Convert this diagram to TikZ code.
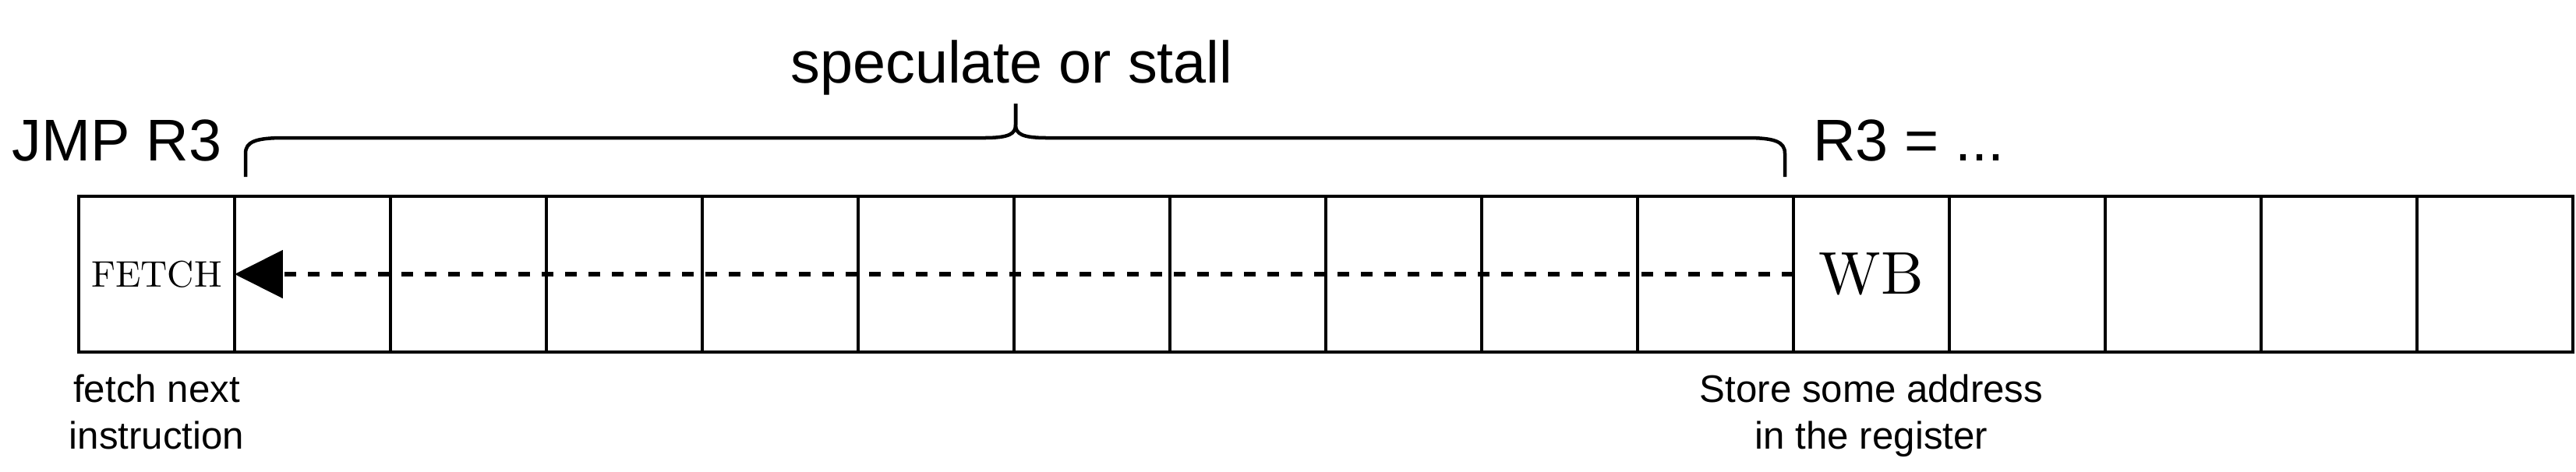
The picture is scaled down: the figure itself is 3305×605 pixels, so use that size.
\documentclass[tikz,border=0pt]{standalone}
\usepackage{fontspec}
\newfontfamily\sansf{Liberation Sans}
\newfontfamily\lmten{lmroman10-regular.otf}
\usetikzlibrary{arrows.meta}
\begin{document}
\begin{tikzpicture}[x=0.01cm,y=-0.01cm,
  cell/.style={draw=black, line width=0.045cm, minimum width=2cm, minimum height=2cm, inner sep=0pt, outer sep=0pt},
  bigtxt/.style={font=\sansf\fontsize{21.5}{25}\selectfont, inner sep=0pt},
  smalltxt/.style={font=\sansf\fontsize{14}{17.07}\selectfont, inner sep=0pt, align=center},
  bracestyle/.style={line width=0.045cm, line join=round},
  backarrow/.style={line width=0.055cm, dash pattern=on 0.15cm off 0.15cm, -{Triangle[length=0.62cm,width=0.61cm]}}
]
\useasboundingbox (0,0) rectangle (3305,605);
% pipeline cells
\node[cell, font=\lmten\fontsize{13.5}{15}\selectfont] (c1) at (201,352) {FETCH};
\foreach \i in {2,...,11,13,14,15,16} {
  \node[cell] (c\i) at ({1+200*\i},352) {};
}
\node[cell, font=\lmten\fontsize{22}{26}\selectfont] (c12) at (2401,352) {WB};
% dashed arrow back to fetch
\draw[backarrow] (c12.west) -- (c2.west);
% brace
\draw[bracestyle] (315,227) -- (315,197) .. controls (315,182) and (328,177) .. (364,177)
  -- (1262,177) .. controls (1295,177) and (1303,172) .. (1303,160) -- (1303,133);
\draw[bracestyle] (1303,133) -- (1303,160) .. controls (1303,172) and (1311,177) .. (1344,177)
  -- (2241,177) .. controls (2277,177) and (2290,182) .. (2290,197) -- (2290,227);
% labels
\node[bigtxt, anchor=base] (jmp) at (150,206) {JMP R3};
\node[bigtxt, anchor=base] (spec) at (1298,106) {speculate or stall};
\node[bigtxt, anchor=base] (r3) at (2449,206) {R3 = ...};
\node[smalltxt, anchor=north] (fetchlbl) at (201,480) {fetch next\\instruction};
\node[smalltxt, anchor=north] (storelbl) at (2401,480) {Store some address\\in the register};
\end{tikzpicture}
\end{document}
